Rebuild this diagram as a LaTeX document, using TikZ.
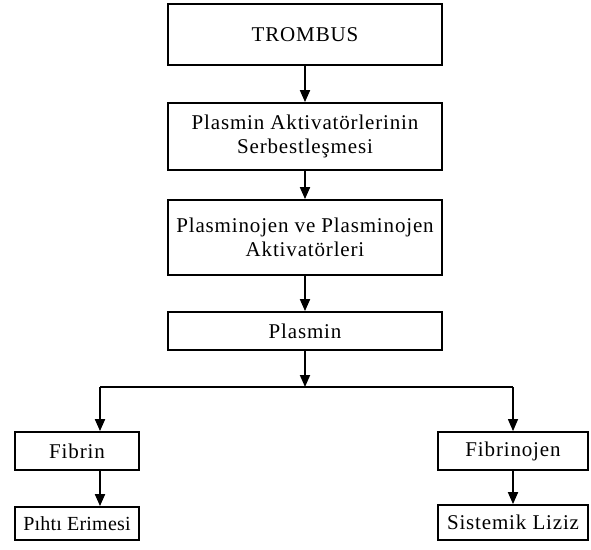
\documentclass[tikz,border=0pt]{standalone}
\usepackage{fontspec}
\setmainfont[LetterSpace=4]{Liberation Serif}
\newfontfamily\tightserif[LetterSpace=1]{Liberation Serif}
\usetikzlibrary{arrows.meta,calc}
\begin{document}
\begin{tikzpicture}[x=1pt,y=-1pt,
  box/.style={draw,line width=1.8pt,rectangle,minimum width=274pt,inner sep=0pt,align=center,
    font=\fontsize{21}{24}\selectfont},
  arr/.style={line width=1.8pt,-{Triangle[length=12pt,width=10pt]}},
  ln/.style={line width=1.4pt}]
\useasboundingbox (0,0) rectangle (591,549);
\node[box,minimum height=61pt] (trombus) at (305,34.5) {TROMBUS};
\node[box,minimum height=67pt] (serb) at (305,136.5) {Plasmin Aktivatörlerinin\\Serbestleşmesi};
\node[box,minimum height=75pt] (akt) at (305,237.5) {Plasminojen ve Plasminojen\\Aktivatörleri};
\node[box,minimum height=38pt] (plasmin) at (305,331) {Plasmin};
\node[box,minimum width=124pt,minimum height=38pt] (fibrin) at (77,451) {Fibrin};
\node[box,minimum width=124pt,minimum height=33pt,font=\fontsize{20}{24}\tightserif] (pihti) at (77,523.5) {Pıhtı Erimesi};
\node[box,minimum width=150pt,minimum height=38pt] (fibrinojen) at (513,451) {Fibrinojen};
\node[box,minimum width=150pt,minimum height=35pt] (sistemik) at (513,522.5) {Sistemik Liziz};
\coordinate (j) at (305,387);
\coordinate (fl) at (100,387);
\coordinate (fr) at (513,387);
\draw[arr] (trombus) -- (serb);
\draw[arr] (serb) -- (akt);
\draw[arr] (akt) -- (plasmin);
\draw[arr] (plasmin) -- (j);
\draw[ln] (fl) -- (fr);
\draw[arr] (fl) -- (fibrin.north -| fl);
\draw[arr,line width=1.2pt] (fr) -- (fibrinojen.north);
\draw[arr] (fibrin.south -| fl) -- (pihti.north -| fl);
\draw[arr] (fibrinojen) -- (sistemik);
\end{tikzpicture}
\end{document}
